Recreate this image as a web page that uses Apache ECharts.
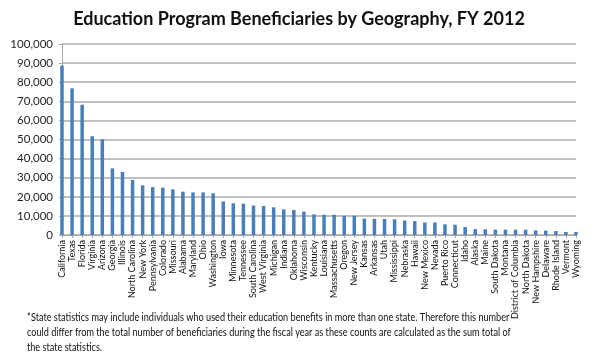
<!DOCTYPE html>
<html>
<head>
<meta charset="utf-8">
<script src="https://cdn.jsdelivr.net/npm/echarts@6/dist/echarts.min.js"></script>
<style>
html,body{margin:0;padding:0;background:#fff;}
#chart{width:598px;height:364px;}
</style>
</head>
<body>
<div id="chart"></div>
<script>
var titleText = 'Education Program Beneficiaries by Geography, FY 2012';
var categories = ['California','Texas','Florida','Virginia','Arizona','Georgia','Illinois','North Carolina','New York','Pennsylvania','Colorado','Missouri','Alabama','Maryland','Ohio','Washington','Iowa','Minnesota','Tennessee','South Carolina','West Virginia','Michigan','Indiana','Oklahoma','Wisconsin','Kentucky','Louisiana','Massachusetts','Oregon','New Jersey','Kansas','Arkansas','Utah','Mississippi','Nebraska','Hawaii','New Mexico','Nevada','Puerto Rico','Connecticut','Idaho','Alaska','Maine','South Dakota','Montana','District of Columbia','North Dakota','New Hampshire','Delaware','Rhode Island','Vermont','Wyoming'];
var beneficiaries = [88700,76800,68200,51700,50100,34900,33000,28800,26000,25100,24800,23900,22700,22300,22300,21800,17600,16600,16400,15400,15200,14500,13400,13100,12200,10800,10600,10600,10100,10100,8600,8400,8400,8200,7600,7300,6600,6600,5600,5400,4200,3100,3000,2800,2800,2800,2800,2400,2300,2100,1600,1600];
var yMin = 0, yMax = 100000, yStep = 10000;
var footnoteLines = [
  '*State statistics may include individuals who used their education benefits in more than one state. Therefore this number',
  'could differ from the total number of beneficiaries during the fiscal year as these counts are calculated as the sum total of',
  'the state statistics.'
];

var chart = echarts.init(document.getElementById('chart'), null, {renderer:'canvas'});
var FONT = 'Lato';
var option = {
  animation: false,
  backgroundColor: '#ffffff',
  title: {
    text: titleText,
    left: 'center',
    top: 5,
    textStyle: {fontFamily: FONT, fontSize: 18, fontWeight: 'bold', color: '#111111'}
  },
  grid: {left: 62, right: 22, top: 44, bottom: 129, containLabel: false},
  xAxis: {
    type: 'category',
    data: categories,
    boundaryGap: false,
    axisLine: {show: true, lineStyle: {color: '#a6a6a6', width: 1}},
    axisTick: {show: true, length: 3, lineStyle: {color: '#a6a6a6'}},
    axisLabel: {interval: 0, rotate: 90, fontFamily: FONT, fontSize: 9, color: '#111111', margin: 5},
    splitLine: {show: false}
  },
  yAxis: {
    type: 'value',
    min: yMin, max: yMax, interval: yStep,
    axisLine: {show: true, lineStyle: {color: '#a6a6a6', width: 1}},
    axisTick: {show: true, length: 3, lineStyle: {color: '#a6a6a6'}},
    axisLabel: {
      fontFamily: FONT, fontSize: 11.5, color: '#1f1f1f', margin: 9,
      formatter: function(v){ return v.toLocaleString('en-US'); }
    },
    splitLine: {show: true, lineStyle: {color: '#ababab', width: 1.5}}
  },
  series: [{
    type: 'bar',
    data: beneficiaries,
    barWidth: 3.5,
    itemStyle: {color: '#4a7ebb'}
  }],
  graphic: footnoteLines.map(function(t, i){
    return {
      type: 'text',
      x: 27,
      y: 312 + i * 15,
      scaleX: 0.87,
      style: {text: t, font: '10.5px ' + FONT, fill: '#111111'}
    };
  })
};
chart.setOption(option);
</script>
</body>
</html>
